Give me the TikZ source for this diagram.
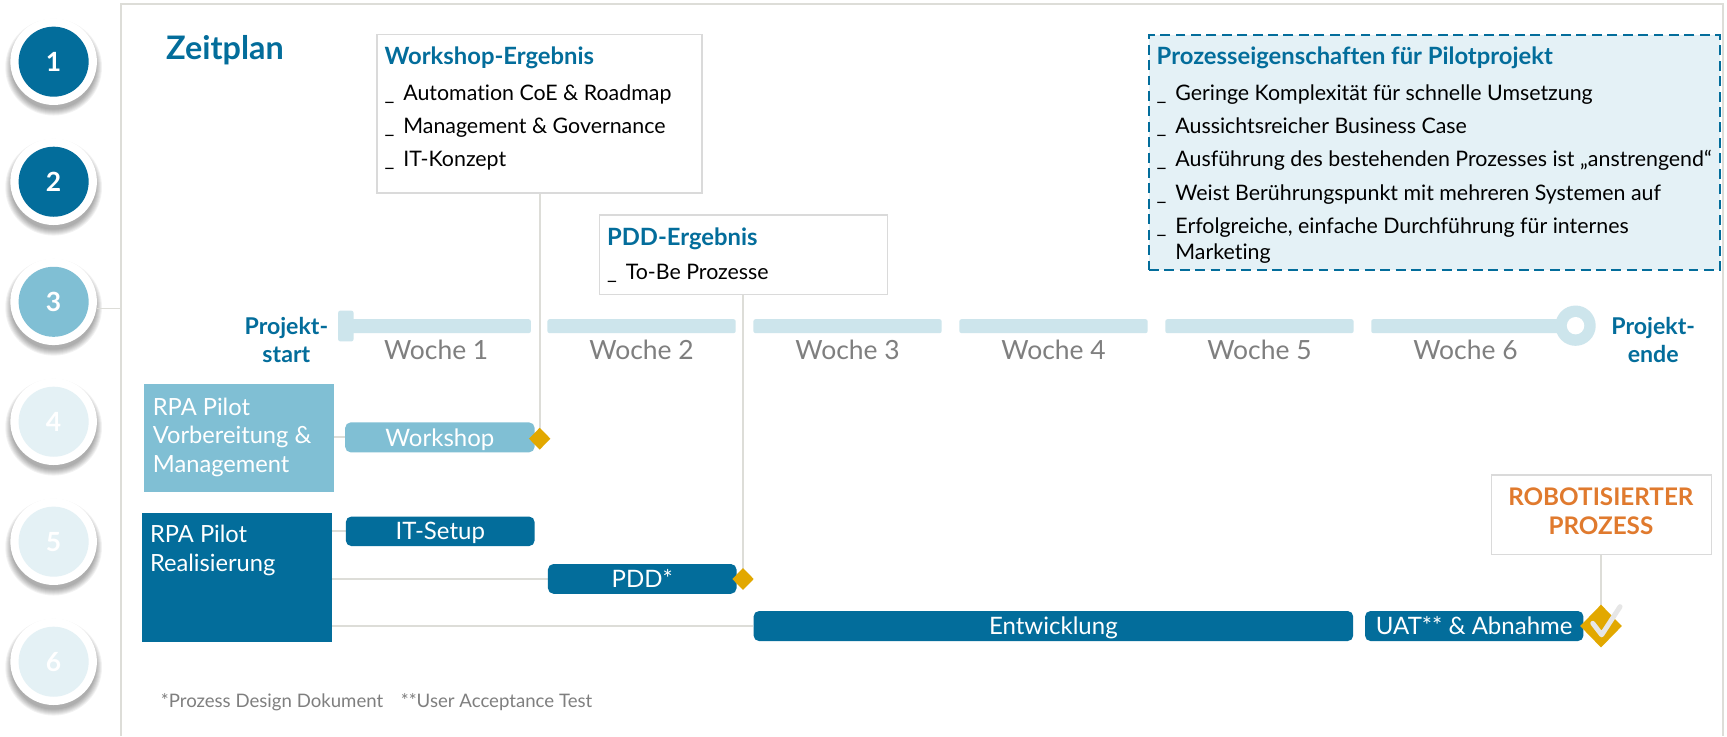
\documentclass[tikz,border=0pt]{standalone}
\usepackage{fontspec}
\setmainfont{Lato}[Ligatures={NoCommon}]
\usetikzlibrary{shapes.geometric,calc}
\definecolor{dblue}{HTML}{036D9B}
\definecolor{mblue}{HTML}{80BFD4}
\definecolor{lblue}{HTML}{CDE5EC}
\definecolor{vlblue}{HTML}{E4F1F5}
\definecolor{boxfill}{HTML}{E4F1F6}
\definecolor{gold}{HTML}{E2A800}
\definecolor{orng}{HTML}{E07A2E}
\definecolor{txtgrey}{HTML}{7F7F7F}
\definecolor{lngrey}{HTML}{DDDDD8}
\definecolor{bdgrey}{HTML}{DADADA}
\definecolor{chk}{HTML}{E6E6E6}
\newcommand{\myfs}[1]{\fontsize{#1}{#1}\selectfont}
\newcommand{\mybul}{\makebox[17pt][l]{\_}}
\pgfdeclarelayer{back}
\pgfdeclarelayer{bg}
\pgfsetlayers{back,bg,main}
\begin{document}
\begin{tikzpicture}[x=1pt,y=-1pt,
  tl/.style={anchor=base west, inner sep=0},
  tc/.style={anchor=base, inner sep=0},
  body/.style={font=\myfs{19.4}, text=black},
  head/.style={font=\bfseries\myfs{21.6}, text=dblue},
  conn/.style={draw=lngrey, line width=1.6},
  gbox/.style={draw=bdgrey, line width=1.2, fill=white, anchor=north west, inner sep=0},
  bar/.style={rounded corners=5pt, inner sep=0, text=white, font=\myfs{21.8}, text height=15.7pt, text depth=0pt},
  milestone/.style={diamond, aspect=1, fill=gold, inner sep=0},
  rowtxt/.style={anchor=base west, inner sep=0, text=white, font=\myfs{21.5}},
  week/.style={anchor=base, inner sep=0, text=txtgrey, font=\myfs{24}},
  pj/.style={anchor=base, inner sep=0, text=dblue, font=\bfseries\myfs{21}},
  numc/.style={circle, inner sep=0, minimum size=63.6pt, text=white, font=\bfseries\myfs{24}}
]
\useasboundingbox (0,0) rectangle (1568,668.3);
\begin{pgfonlayer}{back}
\fill[white] (0,0) rectangle (1568,668.3);
\end{pgfonlayer}

% frame
\draw[lngrey, line width=2] (110,668.3) -- (110,3.5) -- (1564,3.5) -- (1564,668.3);

% numbered circles
\foreach \i/\y/\c in {1/56/dblue,2/165/dblue,3/274/mblue,4/382.9/vlblue,5/491.8/vlblue,6/600.8/vlblue}{
  \foreach \k in {0,...,6}{
    \fill[black, opacity=0.05] (48.7,\y+5) circle (38.5+\k*0.9);
  }
  \fill[white] (48.7,\y) circle (39.3);
  \node[numc, fill=\c] (c\i) at (48.7,\y) {\i};
}
\coordinate (fr3) at (110,280);
\draw[conn, line width=1.3] ($(c3.center |- fr3)+(39.3,0)$) -- (fr3);

% title
\node[tl, font=\bfseries\myfs{29.4}, text=dblue] (title) at (150.7,53.6) {Zeitplan};

% Workshop-Ergebnis box
\node[gbox, minimum width=295, minimum height=143.7] (wsbox) at (341.8,30.9) {};
\node[tl, head] (wst) at (349,58.4) {Workshop-Ergebnis};
\node[tl, body] (ws1) at (349,91.4) {\mybul Automation CoE \& Roadmap};
\node[tl, body] (ws2) at (349,121) {\mybul Management \& Governance};
\node[tl, body] (ws3) at (349,151.3) {\mybul IT-Konzept};

% PDD-Ergebnis box
\node[gbox, minimum width=261.5, minimum height=72.4] (pddbox) at (543.9,194.6) {};
\node[tl, head] (pddt) at (551,223) {PDD-Ergebnis};
\node[tl, body] (pdd1) at (551,253.6) {\mybul To-Be Prozesse};

% Prozesseigenschaften box
\node[draw=dblue, dash pattern=on 9pt off 5pt, line width=1.8, fill=boxfill, anchor=north west, inner sep=0, minimum width=518.8, minimum height=213.6] (props) at (1042.2,30.9) {};
\node[tl, head] (prt) at (1050,58.4) {Prozesseigenschaften für Pilotprojekt};
\node[tl, body] (pr1) at (1050,91.7) {\mybul Geringe Komplexität für schnelle Umsetzung};
\node[tl, body] (pr2) at (1050,121) {\mybul Aussichtsreicher Business Case};
\node[tl, body] (pr3) at (1050,151.3) {\mybul Ausführung des bestehenden Prozesses ist „anstrengend“};
\node[tl, body] (pr4) at (1050,181.6) {\mybul Weist Berührungspunkt mit mehreren Systemen auf};
\node[tl, body] (pr5) at (1050,211.8) {\mybul Erfolgreiche, einfache Durchführung für internes};
\node[tl, body] (pr6) at (1067,235.5) {Marketing};

% timeline
\fill[lblue, rounded corners=2] (307,282) rectangle (321,310);
\foreach \a/\b in {318/482,497/668,684/855,871/1042,1058/1229,1245/1425}{
  \fill[lblue, rounded corners=2] (\a,289.8) rectangle (\b,302.5);
}
\fill[lblue] (1430.5,295.7) circle (18.3);
\fill[white] (1430.5,295.7) circle (7.9);
\foreach \i/\x in {1/396,2/582.5,3/769.5,4/956.5,5/1143.5,6/1330.5}{
  \node[week] (wk\i) at (\x,326) {Woche \i};
}
\node[pj] (ps1) at (260,304) {Projekt-};
\node[pj] (ps2) at (260,329.3) {start};
\node[pj] (pe1) at (1501,304) {Projekt-};
\node[pj] (pe2) at (1501,329.3) {ende};

% rows
\node[fill=mblue, anchor=north west, inner sep=0, minimum width=172.3, minimum height=97.8] (prep) at (130.7,348.6) {};
\node[rowtxt] (prep1) at (138.6,376.8) {RPA Pilot};
\node[rowtxt] (prep2) at (138.6,403) {Vorbereitung \&};
\node[rowtxt] (prep3) at (138.6,428.6) {Management};
\node[fill=dblue, anchor=north west, inner sep=0, minimum width=172.4, minimum height=116.6] (real) at (129,466) {};
\node[rowtxt] (real1) at (136,493) {RPA Pilot};
\node[rowtxt] (real2) at (136,519) {Realisierung};

% bars
\node[bar, fill=mblue, minimum width=172, minimum height=27.2] (ws) at (399.4,397.1) {Workshop};
\node[bar, fill=dblue, minimum width=171.4, minimum height=26.8] (it) at (399.7,482.4) {IT-Setup};
\node[bar, fill=dblue, minimum width=171.2, minimum height=27] (pdd) at (583.1,525.6) {PDD*};
\node[bar, fill=dblue, minimum width=544.4, minimum height=27.3] (ent) at (956.4,568.4) {Entwicklung};
\node[bar, fill=dblue, minimum width=198.3, minimum height=27.3] (uat) at (1338.5,568.4) {UAT** \& Abnahme};

% milestones
\node[milestone, minimum width=19.6, minimum height=20] (wsd) at (490,398.3) {};
\node[milestone, minimum width=19.6, minimum height=20] (pddd) at (674.6,525.7) {};
\node[milestone, minimum width=38, minimum height=39] (uatd) at (1453.6,568.4) {};
\draw[chk, line width=4.5, line cap=round, line join=round] ($(uatd.center)+(-7.5,-2.5)$) -- ($(uatd.center)+(0.6,8)$) -- ($(uatd.center)+(17.3,-17.6)$);

% robot box
\node[gbox, minimum width=199.5, minimum height=72.3] (robot) at (1353.7,430.7) {};
\node[tc, font=\bfseries\myfs{22}, text=orng] (rob1) at (1453.5,459) {ROBOTISIERTER};
\node[tc, font=\bfseries\myfs{22}, text=orng] (rob2) at (1453.5,485) {PROZESS};

% footnotes
\node[tl, font=\myfs{16.9}, text=txtgrey] (fn1) at (145.9,642.2) {*Prozess Design Dokument};
\node[tl, font=\myfs{16.9}, text=txtgrey] (fn2) at (363.8,642.2) {**User Acceptance Test};

% connectors
\begin{pgfonlayer}{bg}
\draw[conn] (wsd |- wsbox.south) -- (wsd.center);
\draw[conn] (pddd |- pddbox.south) -- (pddd.center);
\draw[conn] (uatd |- robot.south) -- (uatd.center);
\draw[conn] (prep.east |- ws.west) -- (ws.west);
\draw[conn] (real.east |- it.west) -- (it.west);
\draw[conn] (real.east |- pdd.west) -- (pdd.west);
\draw[conn] (real.east |- ent.west) -- (ent.west);
\end{pgfonlayer}
\end{tikzpicture}
\end{document}
